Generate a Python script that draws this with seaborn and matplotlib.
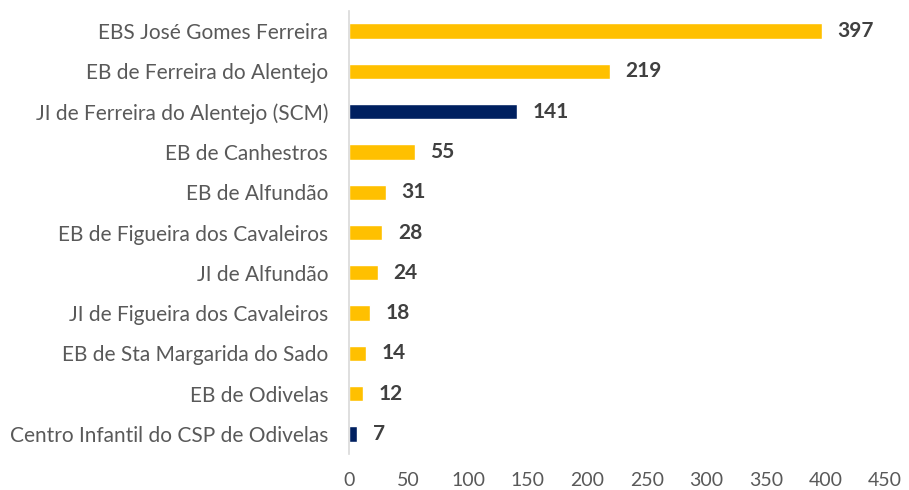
import matplotlib
matplotlib.use("Agg")
import matplotlib.pyplot as plt
import seaborn as sns
import pandas as pd

schools = [
    "EBS José Gomes Ferreira",
    "EB de Ferreira do Alentejo",
    "JI de Ferreira do Alentejo (SCM)",
    "EB de Canhestros",
    "EB de Alfundão",
    "EB de Figueira dos Cavaleiros",
    "JI de Alfundão",
    "JI de Figueira dos Cavaleiros",
    "EB de Sta Margarida do Sado",
    "EB de Odivelas",
    "Centro Infantil do CSP de Odivelas",
]
students = [397, 219, 141, 55, 31, 28, 24, 18, 14, 12, 7]
highlight = [False, False, True, False, False, False, False, False, False, False, True]
x_ticks = [0, 50, 100, 150, 200, 250, 300, 350, 400, 450]

YELLOW = "#FFC000"
NAVY = "#002060"

sns.set_theme(style="white")
plt.rcParams["font.family"] = ["Lato", "DejaVu Sans"]

df = pd.DataFrame({"school": schools, "students": students})
colors = [NAVY if h else YELLOW for h in highlight]

fig = plt.figure(figsize=(9.09, 4.90), dpi=100)
ax = fig.add_axes([0.384, 0.073, 0.5896, 0.905])
sns.barplot(data=df, y="school", x="students", hue="school", palette=colors,
            legend=False, width=0.38, ax=ax, saturation=1)

# data labels to the right of each bar
for i, v in enumerate(students):
    ax.text(v + 13, i, str(v), va="center", ha="left", fontsize=15,
            fontweight="bold", color="#404040")

ax.set_xlim(0, 450)
ax.set_ylim(10.5, -0.5)
ax.set_xticks(x_ticks)
ax.set_xlabel("")
ax.set_ylabel("")
ax.tick_params(axis="x", length=0, labelsize=14, colors="#595959", pad=13)
ax.tick_params(axis="y", length=0, labelsize=15, colors="#595959", pad=15)
for s in ["top", "right", "bottom"]:
    ax.spines[s].set_visible(False)
ax.spines["left"].set_color("#D9D9D9")
ax.spines["left"].set_linewidth(1.2)

fig.savefig("out.png", dpi=100)
